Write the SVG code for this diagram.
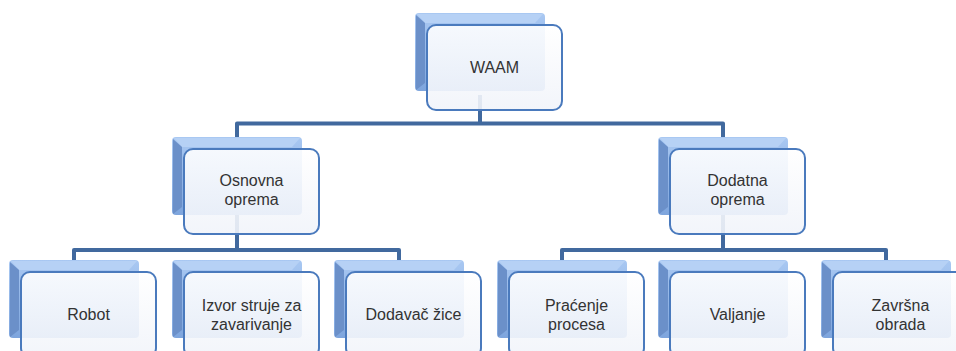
<svg xmlns="http://www.w3.org/2000/svg" width="956" height="351" viewBox="0 0 956 351">
  <defs>
    <linearGradient id="backGrad" x1="0" y1="0" x2="0" y2="1">
      <stop offset="0" stop-color="#a9c8f2"/>
      <stop offset="1" stop-color="#7ea5dd"/>
    </linearGradient>
    <linearGradient id="frontGrad" x1="0" y1="0" x2="0" y2="1">
      <stop offset="0" stop-color="#ffffff"/>
      <stop offset="1" stop-color="#f1f4fa"/>
    </linearGradient>
    <g id="box">
      <rect x="0" y="0" width="130" height="78" rx="4" fill="url(#backGrad)"/>
      <polygon points="2,1 128,1 120,10 10,10" fill="#b6d1f5"/>
      <polygon points="1,2 10,10 10,70 1,77" fill="#6b90c9"/>
      <rect x="12" y="12" width="135" height="85" rx="9" fill="url(#frontGrad)" fill-opacity="0.9" stroke="#4a7abd" stroke-width="2"/>
    </g>
  </defs>
  <style>
    .lbl { font-family: "Liberation Sans", Arial, sans-serif; font-size: 16px; fill: #333333; text-anchor: middle; }
    .conn { fill: none; stroke: #41699e; stroke-width: 4; stroke-linejoin: round; }
  </style>
  <rect width="956" height="351" fill="#ffffff"/>
  <g id="connectors">
    <path class="conn" d="M480,95 V123.5 M237,137 V123.5 H723 V137"/>
    <path class="conn" d="M237,215 V250 M74,260 V250 H399 V260"/>
    <path class="conn" d="M723,215 V250 M562,260 V250 H886 V260"/>
  </g>
  <g id="n-waam" transform="translate(415,13)">
    <use href="#box"/>
    <text class="lbl" x="79.5" y="60">WAAM</text>
  </g>
  <g id="n-osnovna" transform="translate(172,137)">
    <use href="#box"/>
    <text class="lbl" x="79.5" y="49">Osnovna</text>
    <text class="lbl" x="79.5" y="68">oprema</text>
  </g>
  <g id="n-dodatna" transform="translate(658,137)">
    <use href="#box"/>
    <text class="lbl" x="79.5" y="49">Dodatna</text>
    <text class="lbl" x="79.5" y="68">oprema</text>
  </g>
  <g id="n-robot" transform="translate(9,260)">
    <use href="#box"/>
    <text class="lbl" x="79.5" y="60">Robot</text>
  </g>
  <g id="n-izvor" transform="translate(172,260)">
    <use href="#box"/>
    <text class="lbl" x="79.5" y="51">Izvor struje za</text>
    <text class="lbl" x="79.5" y="70">zavarivanje</text>
  </g>
  <g id="n-dodavac" transform="translate(334,260)">
    <use href="#box"/>
    <text class="lbl" x="79.5" y="60">Dodavač žice</text>
  </g>
  <g id="n-pracenje" transform="translate(497,260)">
    <use href="#box"/>
    <text class="lbl" x="79.5" y="51">Praćenje</text>
    <text class="lbl" x="79.5" y="70">procesa</text>
  </g>
  <g id="n-valjanje" transform="translate(658,260)">
    <use href="#box"/>
    <text class="lbl" x="79.5" y="60">Valjanje</text>
  </g>
  <g id="n-zavrsna" transform="translate(821,260)">
    <use href="#box"/>
    <text class="lbl" x="79.5" y="51">Završna</text>
    <text class="lbl" x="79.5" y="70">obrada</text>
  </g>
</svg>
